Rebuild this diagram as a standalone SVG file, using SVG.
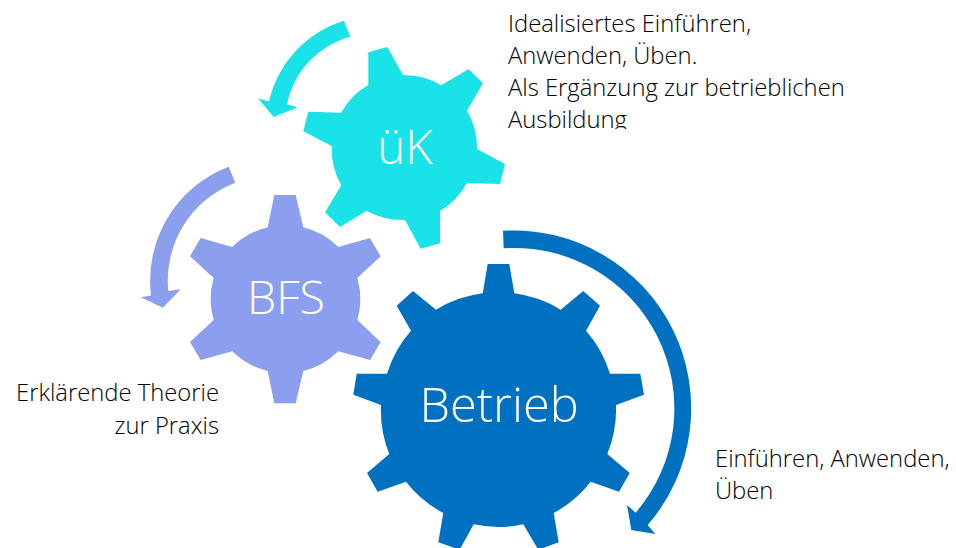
<svg xmlns="http://www.w3.org/2000/svg" width="956" height="548" viewBox="0 0 956 548">
<style>
.t{font-family:"Open Sans","Noto Sans","Liberation Sans",sans-serif;font-weight:300;font-size:23.8px;fill:#000}
.g{font-family:"Open Sans","Noto Sans","Liberation Sans",sans-serif;font-weight:300;fill:#fff;text-anchor:middle}
.teal{fill:#19E3E8}.peri{fill:#8C9EEE}.blue{fill:#0070C0}
</style>
<defs><clipPath id="clip"><rect x="500" y="0" width="360" height="129"/></clipPath></defs>
<rect width="956" height="548" fill="#fff"/>
<g id="connectors">
<path class="teal" d="M344 20.7A110 110 0 0 0 269 101.5L258 98.3L273.7 117L297.7 107.3L287 104.5A88 88 0 0 1 350.3 36.7Z"/>
<path class="peri" d="M228.7 166.7A122 122 0 0 0 151 295.5L140.7 297.3L162.7 307.7L180.7 289.3L168.3 291A104.7 104.7 0 0 1 235.3 182.7Z"/>
<path class="blue" d="M503 230.7A178 178 0 0 1 647.7 525L655.3 534L631.3 530L627 505L635.7 512.7A160.3 160.3 0 0 0 503.7 248.3Z"/>
</g>
<g id="node-uek">
<path class="teal" d="M368.3 52.3L387.3 47L403 75A73 73 0 0 1 441.3 85.3L468.7 69L483 83.3L467 110.7A73 73 0 0 1 477 149L505 164L500 184L467 183A73 73 0 0 1 440 211L440 243.3L420.7 248.7L405 220A73 73 0 0 1 366.7 210.7L340 227L325 212.3L341.3 185.3A73 73 0 0 1 331.7 146L303.3 131.3L308.3 111.7L341 112.7A73 73 0 0 1 368.3 85Z"/>
<text class="g" x="405" y="164" font-size="47">üK</text>
</g>
<g id="node-bfs">
<path class="peri" d="M274.3 195L295.7 195L303.3 227.3A75 75 0 0 1 338.3 247L370 238L380.7 256.3L357.3 278A75 75 0 0 1 357.3 320L380.7 342L370 360L338.3 351.3A75 75 0 0 1 303.3 371L295.7 403.3L274.3 403.3L267.7 371A75 75 0 0 1 232.3 351.3L200.7 360L190 342L213.7 320A75 75 0 0 1 213.7 278L190 256.3L200.7 238L232.3 247A75 75 0 0 1 267.7 227.3Z"/>
<text class="g" x="286" y="314" font-size="46.5">BFS</text>
</g>
<g id="node-betrieb">
<path class="blue" d="M487.7 264L509.3 264L514.3 293.3A116.5 116.5 0 0 1 560.7 309.7L583.3 291L600 305.7L586 330.7A116.5 116.5 0 0 1 610 373.7L640.3 373.7L644 394.7L616 405A116.5 116.5 0 0 1 607.3 454L629.7 473L619 491.7L590.7 481.7A116.5 116.5 0 0 1 553.7 513L558.7 542.3L538.3 549.7L523.3 524.3A116.5 116.5 0 0 1 473.7 524.3L459.7 549.7L438.3 542.3L443.3 513A116.5 116.5 0 0 1 406 481.7L377.7 491.7L367 473L389.3 454A116.5 116.5 0 0 1 381 405L353.3 394.7L356.7 373.7L387 373.7A116.5 116.5 0 0 1 411 330.7L396.7 305.7L413 291L436 309.7A116.5 116.5 0 0 1 482.7 293.3Z"/>
<text class="g" x="499" y="422" font-size="48.7">Betrieb</text>
</g>
<g id="labels">
<g clip-path="url(#clip)">
<text class="t" x="508" y="32">Idealisiertes Einführen,</text>
<text class="t" x="508" y="64">Anwenden, Üben.</text>
<text class="t" x="508" y="96">Als Ergänzung zur betrieblichen</text>
<text class="t" x="508" y="128">Ausbildung</text>
</g>
<text class="t" x="219" y="401" text-anchor="end">Erklärende Theorie</text>
<text class="t" x="219" y="434" text-anchor="end">zur Praxis</text>
<text class="t" x="715" y="467">Einführen, Anwenden,</text>
<text class="t" x="715" y="499">Üben</text>
</g>
</svg>
